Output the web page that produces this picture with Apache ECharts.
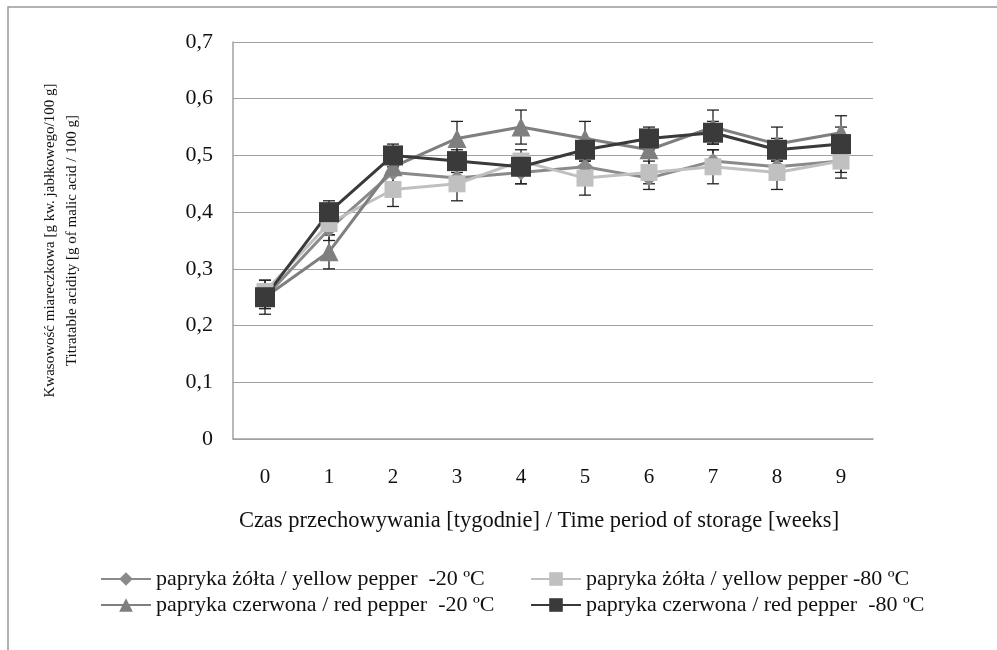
<!DOCTYPE html>
<html>
<head>
<meta charset="utf-8">
<script src="https://cdn.jsdelivr.net/npm/echarts@6/dist/echarts.min.js"></script>
<style>
html, body { margin: 0; padding: 0; background: #fff; }
#chart { width: 997px; height: 650px; }
</style>
</head>
<body>
<div id="chart"></div>
<script>
// Data
var weeks = ['0', '1', '2', '3', '4', '5', '6', '7', '8', '9'];
var seriesNames = [
    'papryka żółta / yellow pepper  -20 ºC',
    'papryka żółta / yellow pepper -80 ºC',
    'papryka czerwona / red pepper  -20 ºC',
    'papryka czerwona / red pepper  -80 ºC'
];
var yellow20 = [0.25, 0.37, 0.47, 0.46, 0.47, 0.48, 0.46, 0.49, 0.48, 0.49];
var yellow80 = [0.26, 0.38, 0.44, 0.45, 0.49, 0.46, 0.47, 0.48, 0.47, 0.49];
var red20 = [0.25, 0.33, 0.48, 0.53, 0.55, 0.53, 0.51, 0.55, 0.52, 0.54];
var red80 = [0.25, 0.40, 0.50, 0.49, 0.48, 0.51, 0.53, 0.54, 0.51, 0.52];
var yellow20Err = [0.02, 0.02, 0.02, 0.02, 0.02, 0.02, 0.02, 0.02, 0.02, 0.03];
var yellow80Err = [0.02, 0.02, 0.03, 0.03, 0.01, 0.03, 0.02, 0.03, 0.03, 0.02];
var red20Err = [0.02, 0.03, 0.01, 0.03, 0.03, 0.03, 0.03, 0.03, 0.03, 0.03];
var red80Err = [0.03, 0.02, 0.02, 0.02, 0.03, 0.02, 0.02, 0.02, 0.02, 0.03];

var chartElement = document.getElementById('chart');
var chart = echarts.init(chartElement);

var font = '"Liberation Serif", "Times New Roman", serif';

// Build [x, low, high] rows for error bars
function errRows(values, errs) {
    return values.map(function (v, i) {
        return [i, +(v - errs[i]).toFixed(3), +(v + errs[i]).toFixed(3)];
    });
}

function errorSeries(values, errs) {
    return {
        type: 'custom',
        silent: true,
        z: 1,
        data: errRows(values, errs),
        renderItem: function (params, api) {
            var x = api.value(0);
            var lo = api.coord([x, api.value(1)]);
            var hi = api.coord([x, api.value(2)]);
            var cap = 6;
            var style = { stroke: '#222', lineWidth: 1.3 };
            return {
                type: 'group',
                children: [
                    { type: 'line', shape: { x1: lo[0], y1: lo[1], x2: hi[0], y2: hi[1] }, style: style },
                    { type: 'line', shape: { x1: lo[0] - cap, y1: lo[1], x2: lo[0] + cap, y2: lo[1] }, style: style },
                    { type: 'line', shape: { x1: hi[0] - cap, y1: hi[1], x2: hi[0] + cap, y2: hi[1] }, style: style }
                ]
            };
        }
    };
}

function lineSeries(name, values, color, symbol, size) {
    return {
        name: name,
        type: 'line',
        data: values,
        z: 3,
        symbol: symbol,
        symbolSize: size,
        lineStyle: { color: color, width: 3 },
        itemStyle: { color: color },
        emphasis: { disabled: true }
    };
}

var legendText = { fontFamily: font, fontSize: 22, color: '#111' };

chart.setOption({
    animation: false,
    textStyle: { fontFamily: font },
    graphic: [{
        type: 'rect',
        shape: { x: 8, y: 7, width: 1000, height: 660 },
        style: { fill: 'none', stroke: '#999', lineWidth: 1.5 }
    }],
    grid: { left: 233, right: 124, top: 42, bottom: 211 },
    legend: [{
        orient: 'vertical',
        left: 95,
        top: 563,
        itemWidth: 50,
        itemHeight: 17,
        itemGap: 4,
        textStyle: legendText,
        data: [seriesNames[0], seriesNames[2]]
    }, {
        orient: 'vertical',
        left: 525,
        top: 563,
        itemWidth: 50,
        itemHeight: 17,
        itemGap: 4,
        textStyle: legendText,
        data: [seriesNames[1], seriesNames[3]]
    }],
    xAxis: {
        type: 'category',
        data: weeks,
        name: 'Czas przechowywania [tygodnie] / Time period of storage [weeks]',
        nameLocation: 'middle',
        nameGap: 71,
        nameTextStyle: { fontFamily: font, fontSize: 22.5, color: '#111', padding: [0, 28, 0, 0] },
        axisLine: { lineStyle: { color: '#a0a0a0', width: 1.5 } },
        axisTick: { show: false },
        axisLabel: { fontFamily: font, fontSize: 21, color: '#111', margin: 28 }
    },
    yAxis: {
        type: 'value',
        min: 0,
        max: 0.7,
        interval: 0.1,
        name: 'Kwasowość miareczkowa [g kw. jabłkowego/100 g]\nTitratable acidity [g of malic acid / 100 g]',
        nameLocation: 'middle',
        nameGap: 150,
        nameTextStyle: { fontFamily: font, fontSize: 15, color: '#111', lineHeight: 22 },
        axisLine: { show: true, lineStyle: { color: '#a0a0a0', width: 1.5 } },
        axisTick: { show: false },
        splitLine: { lineStyle: { color: '#a0a0a0', width: 1.2 } },
        axisLabel: {
            fontFamily: font,
            fontSize: 22,
            color: '#111',
            margin: 20,
            formatter: function (v) { return String(+v.toFixed(1)).replace('.', ','); }
        }
    },
    series: [
        errorSeries(yellow20, yellow20Err),
        errorSeries(yellow80, yellow80Err),
        errorSeries(red20, red20Err),
        errorSeries(red80, red80Err),
        lineSeries(seriesNames[0], yellow20, '#8a8a8a', 'diamond', 16),
        lineSeries(seriesNames[1], yellow80, '#c0c0c0', 'rect', 17),
        lineSeries(seriesNames[2], red20, '#7f7f7f', 'triangle', 19),
        lineSeries(seriesNames[3], red80, '#3a3a3a', 'rect', 20)
    ]
});

// Resize
window.addEventListener('resize', function () {
    chart.resize();
});
</script>
</body>
</html>
